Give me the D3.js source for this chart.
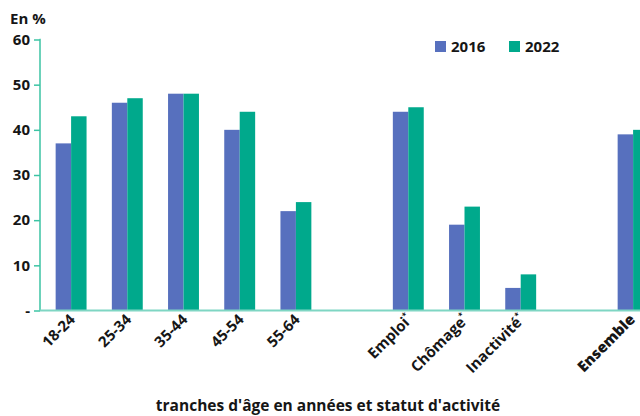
<!DOCTYPE html>
<html>
<head>
<meta charset="utf-8">
<script src="https://cdn.jsdelivr.net/npm/d3@7"></script>
<style>
  body { margin: 0; background: #fff; }
  svg { font-family: "Open Sans", sans-serif; font-weight: 700; }
</style>
</head>
<body>
<svg id="chart" width="640" height="416"></svg>
<script>
// categories ("_x" = empty slot between groups)
const CATS = ["18-24", "25-34", "35-44", "45-54", "55-64", "_a", "Emploi", "Chômage", "Inactivité", "_b", "Ensemble", "_c"];
const STARRED = ["Emploi", "Chômage", "Inactivité"];
const SERIES = ["2016", "2022"];
const V2016 = [37, 46, 48, 40, 22, null, 44, 19, 5, null, 39, null];
const V2022 = [43, 47, 48, 44, 24, null, 45, 23, 8, null, 40, null];
const Y_TICKS = [0, 10, 20, 30, 40, 50, 60];

const COLORS = { "2016": "#5770be", "2022": "#00a98c" };
const AXIS = "#3cc4a4";

const svg = d3.select("#chart");
const plotLeft = 40, plotTop = 39.5, plotBottom = 310.5;

const x = d3.scaleBand().domain(CATS).range([43, 43 + CATS.length * 56.2]).paddingInner(0.45).paddingOuter(0.225);
const xs = d3.scaleBand().domain(SERIES).range([0, x.bandwidth()]);
const y = d3.scaleLinear().domain([0, 60]).range([plotBottom, plotTop]);

// y axis
const yAxis = svg.append("g")
  .attr("transform", `translate(${plotLeft},0)`)
  .call(d3.axisLeft(y).tickValues(Y_TICKS).tickSize(6).tickPadding(4)
    .tickFormat(d => d === 0 ? "-" : d));
yAxis.select(".domain").attr("stroke", AXIS).attr("stroke-width", 1.5).attr("d", `M-0.5,${plotTop}H0V${plotBottom}`);
yAxis.selectAll(".tick line").attr("stroke", AXIS).attr("stroke-width", 1.5);
yAxis.selectAll(".tick text").attr("font-size", 15).attr("fill", "#161616")
  .attr("font-family", "'Open Sans', sans-serif").attr("font-weight", 700);

// bars
const rows = CATS.map((c, i) => ({ cat: c, vals: [V2016[i], V2022[i]] }));
const grp = svg.append("g").selectAll("g").data(rows).join("g")
  .attr("transform", d => `translate(${x(d.cat)},0)`);
grp.selectAll("rect")
  .data(d => d.vals.map((v, j) => ({ s: SERIES[j], v })).filter(e => e.v !== null))
  .join("rect")
  .attr("x", d => xs(d.s))
  .attr("width", xs.bandwidth())
  .attr("y", d => y(d.v))
  .attr("height", d => y(0) - y(d.v))
  .attr("fill", d => COLORS[d.s]);

// x axis baseline
svg.append("line")
  .attr("x1", plotLeft).attr("x2", 640)
  .attr("y1", y(0)).attr("y2", y(0))
  .attr("stroke", "#7fd6c3").attr("stroke-width", 2);

// x labels
const labels = svg.append("g").selectAll("text")
  .data(CATS.filter(c => !c.startsWith("_")))
  .join("text")
  .attr("transform", d => `translate(${x(d) + x.bandwidth() / 2 + (d === "Ensemble" ? 3 : 5)},${plotBottom + 10}) rotate(-45)`)
  .attr("text-anchor", "end")
  .attr("font-size", 15)
  .attr("font-weight", d => d === "Ensemble" ? 800 : 700)
  .attr("fill", "#161616");
labels.append("tspan").text(d => d);
labels.filter(d => STARRED.includes(d)).append("tspan")
  .attr("font-size", 8).attr("dy", -7).text("*");

// y unit
svg.append("text").attr("x", 10).attr("y", 24).attr("font-size", 15).attr("fill", "#161616").text("En %");

// legend
const leg = svg.append("g").selectAll("g").data(SERIES).join("g")
  .attr("transform", (d, i) => `translate(${435 + i * 74},41)`);
leg.append("rect").attr("width", 11).attr("height", 11).attr("fill", d => COLORS[d]);
leg.append("text").attr("x", 16).attr("y", 11).attr("font-size", 15).attr("fill", "#161616").text(d => d);

// x title
svg.append("text").attr("x", 328).attr("y", 411).attr("text-anchor", "middle")
  .attr("font-size", 15.5).attr("fill", "#161616")
  .text("tranches d'âge en années et statut d'activité");
</script>
</body>
</html>
